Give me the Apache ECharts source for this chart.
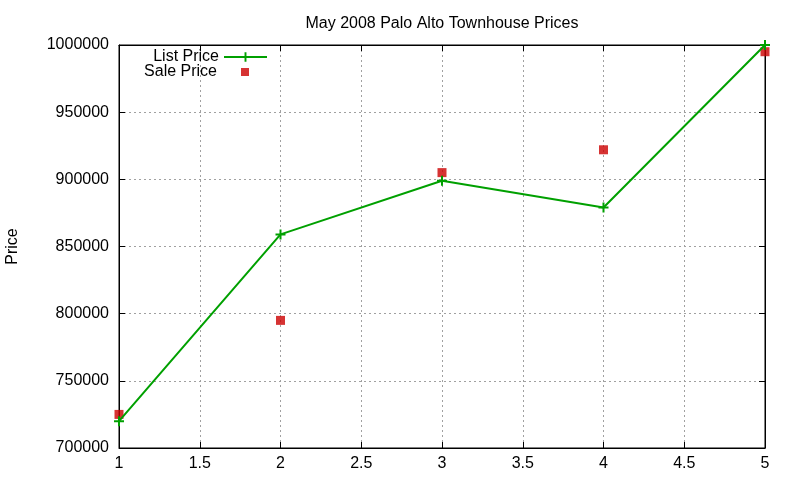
<!DOCTYPE html>
<html>
<head>
    <meta http-equiv="Content-Type" content="text/html; charset=utf-8"/>
    <script src="https://cdn.jsdelivr.net/npm/echarts@6/dist/echarts.min.js"></script>
    <style>
        body { margin: 0; background: #fff; }
    </style>
</head>
<body>
<div id="main" style="width:800px;height:480px;"></div>
<script type="text/javascript">
    // month index of the listing / sale
    var houseNo = [1, 2, 3, 4, 5];
    var listPrice = [720000, 859000, 899000, 879000, 1000000];
    var salePrice = [725000, 795000, 905000, 922000, 995000];

    var yTicks = {min: 700000, max: 1000000, step: 50000};
    var xTicks = {min: 1, max: 5, step: 0.5};

    var font = 'Liberation Sans, Arial, sans-serif';
    var plus = 'path://M4,0H6V4H10V6H6V10H4V6H0V4H4Z';

    function pairs(xs, ys) {
        var out = [];
        for (var i = 0; i < xs.length; i++) {
            out.push([xs[i], ys[i]]);
        }
        return out;
    }

    var chart = echarts.init(document.getElementById('main'));
    var option = {
        backgroundColor: '#fff',
        animation: false,
        textStyle: {fontFamily: font, color: '#000'},
        title: {
            text: 'May 2008 Palo Alto Townhouse Prices',
            left: 437,
            top: 11,
            textAlign: 'center',
            textStyle: {fontFamily: font, fontSize: 16, fontWeight: 'normal', color: '#000'}
        },
        legend: [
            {
                data: ['List Price'],
                orient: 'vertical',
                align: 'right',
                right: 532,
                top: 49,
                padding: 0,
                itemWidth: 43,
                itemHeight: 12,
                textStyle: {fontFamily: font, fontSize: 16, color: '#000'}
            },
            {
                data: ['Sale Price'],
                orient: 'vertical',
                align: 'right',
                right: 551,
                top: 64,
                padding: 0,
                itemWidth: 8,
                itemHeight: 8,
                textStyle: {fontFamily: font, fontSize: 16, color: '#000', padding: [0, 19, 0, 0]}
            }
        ],
        grid: {
            left: 119, right: 35, top: 45, bottom: 32,
            outerBoundsMode: 'none',
            show: true, borderColor: '#000', borderWidth: 1
        },
        xAxis: [
            {
                type: 'value',
                min: xTicks.min, max: xTicks.max, interval: xTicks.step,
                axisLine: {show: true, lineStyle: {color: '#000'}},
                axisTick: {inside: true, length: 6, lineStyle: {color: '#000'}},
                axisLabel: {fontFamily: font, fontSize: 16, color: '#000', margin: 8},
                splitLine: {show: true, lineStyle: {color: '#a0a0a0', type: [2, 3]}}
            },
            {
                type: 'value', position: 'top',
                min: xTicks.min, max: xTicks.max, interval: xTicks.step,
                axisLine: {show: true, lineStyle: {color: '#000'}},
                axisTick: {inside: true, length: 6, lineStyle: {color: '#000'}},
                axisLabel: {show: false},
                splitLine: {show: false}
            }
        ],
        yAxis: [
            {
                type: 'value',
                min: yTicks.min, max: yTicks.max, interval: yTicks.step,
                name: 'Price',
                nameLocation: 'middle',
                nameGap: 98,
                nameRotate: 90,
                nameTextStyle: {fontFamily: font, fontSize: 16, color: '#000'},
                axisLine: {show: true, lineStyle: {color: '#000'}},
                axisTick: {inside: true, length: 6, lineStyle: {color: '#000'}},
                axisLabel: {
                    fontFamily: font, fontSize: 16, color: '#000', margin: 10,
                    formatter: function (v) { return String(v); }
                },
                splitLine: {show: true, lineStyle: {color: '#a0a0a0', type: [2, 3]}}
            },
            {
                type: 'value', position: 'right',
                min: yTicks.min, max: yTicks.max, interval: yTicks.step,
                axisLine: {show: true, lineStyle: {color: '#000'}},
                axisTick: {inside: true, length: 6, lineStyle: {color: '#000'}},
                axisLabel: {show: false},
                splitLine: {show: false}
            }
        ],
        series: [
            {
                name: 'List Price',
                type: 'line',
                data: pairs(houseNo, listPrice),
                symbol: plus,
                symbolSize: 10,
                showAllSymbol: true,
                lineStyle: {color: '#00a000', width: 2},
                itemStyle: {color: '#00a000'},
                z: 3
            },
            {
                name: 'Sale Price',
                type: 'scatter',
                data: pairs(houseNo, salePrice),
                symbol: 'rect',
                symbolSize: 9,
                itemStyle: {color: '#cc0000'},
                z: 2
            }
        ]
    };
    chart.setOption(option);
</script>
</body>
</html>
